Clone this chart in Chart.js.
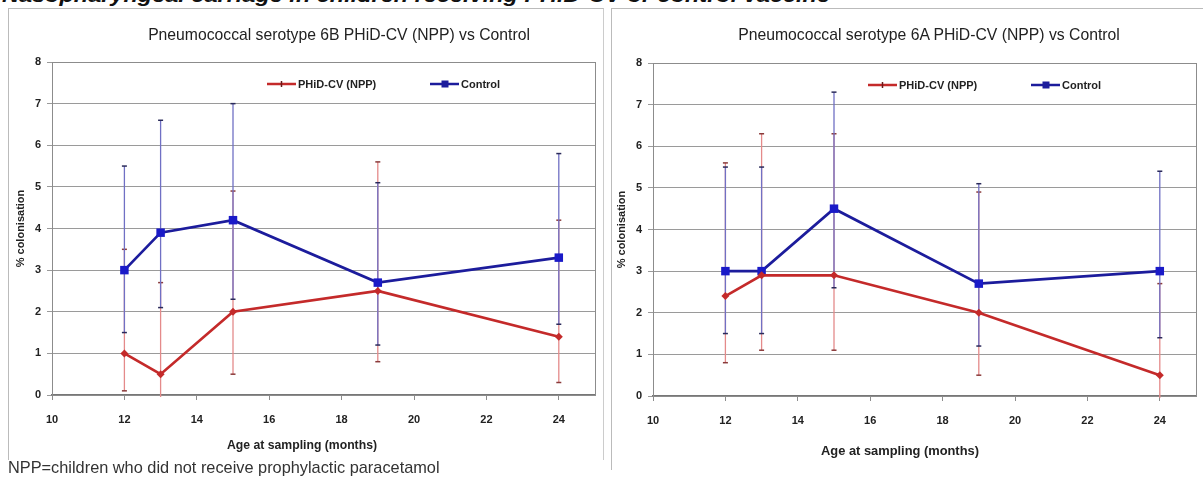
<!DOCTYPE html>
<html>
<head>
<meta charset="utf-8">
<script src="https://cdn.jsdelivr.net/npm/chart.js@4.4.1/dist/chart.umd.min.js"></script>
<style>
  html, body { margin:0; padding:0; background:#fff; width:1203px; height:486px; overflow:hidden; position:relative; font-family:"Liberation Sans", Arial, sans-serif; }
  .abs { position:absolute; white-space:nowrap; }
  .panel { position:absolute; box-sizing:border-box; }
  .ctitle { font-family:"Liberation Sans Narrow","Liberation Sans",Arial,sans-serif; font-size:15px; color:#222; transform:translate(-50%,-50%); }
  .xtitle { font-family:"Liberation Sans Narrow","Liberation Sans",Arial,sans-serif; font-weight:bold; font-size:12px; color:#222; transform:translate(-50%,-50%); }
</style>
</head>
<body>
<div class="abs" id="toptext" style="left:2px; top:-15px; font-size:20px; font-style:italic; font-weight:bold; color:#111; line-height:20px;">Nasopharyngeal carriage in children receiving PHiD-CV or control vaccine</div>
<div class="panel" style="left:8px; top:8px; width:596px; height:452px; border-left:1px solid #bbb; border-top:1px solid #bbb; border-right:1px solid #ccc;"></div>
<div class="panel" style="left:611px; top:8px; width:600px; height:462px; border-left:1px solid #bbb; border-top:1px solid #bbb;"></div>
<div class="abs" style="left:8px; top:8px; width:595px; height:450px;"><canvas id="c1" width="595" height="450"></canvas></div>
<div class="abs" style="left:613px; top:8px; width:590px; height:455px;"><canvas id="c2" width="590" height="455"></canvas></div>
<div class="abs ctitle" data-w="382" style="left:339px; top:35px;">Pneumococcal serotype 6B PHiD-CV (NPP) vs Control</div>
<div class="abs ctitle" data-w="382" style="left:929px; top:35px;">Pneumococcal serotype 6A PHiD-CV (NPP) vs Control</div>
<div class="abs xtitle" data-w="150" style="left:302px; top:445px;">Age at sampling (months)</div>
<div class="abs xtitle" data-w="158" style="left:900px; top:450px;">Age at sampling (months)</div>
<div class="abs" id="note" data-w="432" style="left:8px; top:457px; font-size:16px; color:#333; line-height:20px;">NPP=children who did not receive prophylactic paracetamol</div>
<script>
// ---------------- DATA ----------------
const ages = [12, 13, 15, 19, 24];
const xTicks = [10, 12, 14, 16, 18, 20, 22, 24];
const yTicks = [0, 1, 2, 3, 4, 5, 6, 7, 8];
const seriesNames = ['PHiD-CV (NPP)', 'Control'];

// Serotype 6B
const npp6B     = [1.0, 0.5, 2.0, 2.5, 1.4];
const npp6BLow  = [0.1, 0.0, 0.5, 0.8, 0.3];
const npp6BHigh = [3.5, 2.7, 4.9, 5.6, 4.2];
const ctl6B     = [3.0, 3.9, 4.2, 2.7, 3.3];
const ctl6BLow  = [1.5, 2.1, 2.3, 1.2, 1.7];
const ctl6BHigh = [5.5, 6.6, 7.0, 5.1, 5.8];

// Serotype 6A
const npp6A     = [2.4, 2.9, 2.9, 2.0, 0.5];
const npp6ALow  = [0.8, 1.1, 1.1, 0.5, 0.0];
const npp6AHigh = [5.6, 6.3, 6.3, 4.9, 2.7];
const ctl6A     = [3.0, 3.0, 4.5, 2.7, 3.0];
const ctl6ALow  = [1.5, 1.5, 2.6, 1.2, 1.4];
const ctl6AHigh = [5.5, 5.5, 7.3, 5.1, 5.4];

// ---------------- STYLE ----------------
const RED = '#c42a2a', RED_ERR = '#e48a8a', RED_CAP = '#8a3a3a';
const BLUE = '#1c1c9c', BLUE_ERR = '#7070c4', BLUE_CAP = '#2a2a5a';
const FONT_N = '"Liberation Sans Narrow","Liberation Sans",Arial,sans-serif';

// fit some HTML texts to measured widths
document.querySelectorAll('[data-w]').forEach(el => {
  const target = parseFloat(el.dataset.w);
  const w = el.getBoundingClientRect().width;
  const fs = parseFloat(getComputedStyle(el).fontSize);
  el.style.fontSize = (fs * target / w).toFixed(2) + 'px';
});
(function(){
  const el = document.getElementById('toptext');
  const w = el.getBoundingClientRect().width;
  el.style.transformOrigin = 'left top';
  el.style.transform = 'scaleX(' + (828 / w).toFixed(3) + ')';
})();

const errorBars = {
  id: 'errorBars',
  beforeDatasetsDraw(chart) {
    const ctx = chart.ctx, xs = chart.scales.x, ys = chart.scales.y, a = chart.chartArea;
    ctx.save();
    ctx.beginPath(); ctx.rect(a.left, a.top, a.right - a.left, a.bottom - a.top + 2); ctx.clip();
    chart.data.datasets.forEach(ds => {
      ds.data.forEach((p, i) => {
        const x = xs.getPixelForValue(p.x);
        const y1 = ys.getPixelForValue(ds.errLow[i]);
        const y2 = ys.getPixelForValue(ds.errHigh[i]);
        ctx.strokeStyle = ds.errColor; ctx.lineWidth = 1.3;
        ctx.beginPath(); ctx.moveTo(x, y1 + (ds.errLow[i] <= 0 ? 4 : 0)); ctx.lineTo(x, y2); ctx.stroke();
        ctx.strokeStyle = ds.capColor; ctx.lineWidth = 1.5;
        [[ds.errLow[i], y1], [ds.errHigh[i], y2]].forEach(([v, yy]) => {
          if (v <= 0) return;
          ctx.beginPath(); ctx.moveTo(x - 2.5, yy); ctx.lineTo(x + 2.5, yy); ctx.stroke();
        });
      });
    });
    ctx.restore();
  }
};

const innerLegend = {
  id: 'innerLegend',
  afterDraw(chart) {
    const ctx = chart.ctx, a = chart.chartArea;
    const y = a.top + 22;
    const pos = [215, 378];
    ctx.save();
    chart.data.datasets.forEach((ds, k) => {
      const x0 = a.left + pos[k];
      ctx.strokeStyle = ds.borderColor; ctx.lineWidth = 2.5;
      ctx.beginPath(); ctx.moveTo(x0, y); ctx.lineTo(x0 + 29, y); ctx.stroke();
      ctx.fillStyle = ds.borderColor;
      if (k === 0) {
        ctx.strokeStyle = '#6a1a1a'; ctx.lineWidth = 1.5;
        ctx.beginPath(); ctx.moveTo(x0 + 14.5, y - 3); ctx.lineTo(x0 + 14.5, y + 3); ctx.stroke();
      } else {
        ctx.fillRect(x0 + 11.5, y - 3.5, 7, 7);
      }
      ctx.fillStyle = '#222';
      ctx.font = 'bold 11px ' + FONT_N;
      ctx.textBaseline = 'middle';
      ctx.fillText(ds.label, x0 + 31, y + 1);
    });
    ctx.restore();
  }
};

const plotBorder = {
  id: 'plotBorder',
  beforeDatasetsDraw(chart) {
    const ctx = chart.ctx, a = chart.chartArea;
    ctx.save();
    ctx.strokeStyle = '#8c8c8c'; ctx.lineWidth = 1;
    ctx.strokeRect(Math.round(a.left) + 0.5, Math.round(a.top) + 0.5, Math.round(a.right - a.left), Math.round(a.bottom - a.top));
    ctx.restore();
  }
};

function toPts(vals) { return ages.map((a, i) => ({ x: a, y: vals[i] })); }

function makeChart(id, npp, nppLow, nppHigh, ctl, ctlLow, ctlHigh, L) {
  return new Chart(document.getElementById(id), {
    type: 'line',
    data: {
      datasets: [
        { label: seriesNames[0], data: toPts(npp), errLow: nppLow, errHigh: nppHigh,
          errColor: RED_ERR, capColor: RED_CAP,
          borderColor: RED, backgroundColor: RED, borderWidth: 2.7,
          pointStyle: 'rectRot', pointRadius: 4, pointBorderWidth: 0, tension: 0 },
        { label: seriesNames[1], data: toPts(ctl), errLow: ctlLow, errHigh: ctlHigh,
          errColor: BLUE_ERR, capColor: BLUE_CAP,
          borderColor: BLUE, backgroundColor: '#1a1ac8', borderWidth: 2.7,
          pointStyle: 'rect', pointRadius: 6, pointBorderWidth: 0, tension: 0 }
      ]
    },
    options: {
      responsive: false, animation: false,
      layout: { padding: { top: L.top, right: L.right, left: 0, bottom: 0 } },
      plugins: { legend: { display: false }, tooltip: { enabled: false }, title: { display: false } },
      scales: {
        x: {
          type: 'linear', min: 10, max: 25,
          afterBuildTicks: s => { s.ticks = xTicks.map(v => ({ value: v })); },
          afterFit: s => { s.height = L.xh; },
          grid: { drawOnChartArea: false, drawTicks: true, tickLength: 5, color: '#8c8c8c' },
          border: { color: '#777', width: 1.5 },
          ticks: { padding: 13, color: '#222', font: { family: FONT_N, size: 11, weight: 'bold' }, maxRotation: 0 }
        },
        y: {
          min: 0, max: 8,
          afterBuildTicks: s => { s.ticks = yTicks.map(v => ({ value: v })); },
          afterFit: s => { s.width = L.yw; },
          grid: { color: '#9a9a9a', lineWidth: 1, drawTicks: true, tickLength: 5 },
          border: { color: '#8c8c8c' },
          ticks: { padding: 6, color: '#222', font: { family: FONT_N, size: 11, weight: 'bold' } },
          title: { display: true, text: '% colonisation', color: '#222',
                   font: { family: FONT_N, size: 11, weight: 'bold' }, padding: { top: L.tp, bottom: 0 } }
        }
      }
    },
    plugins: [plotBorder, errorBars, innerLegend]
  });
}

makeChart('c1', npp6B, npp6BLow, npp6BHigh, ctl6B, ctl6BLow, ctl6BHigh,
  { top: 54, right: 8, xh: 63, yw: 44, tp: 6 });
makeChart('c2', npp6A, npp6ALow, npp6AHigh, ctl6A, ctl6ALow, ctl6AHigh,
  { top: 55, right: 7, xh: 67, yw: 40, tp: 2 });
</script>
</body>
</html>
